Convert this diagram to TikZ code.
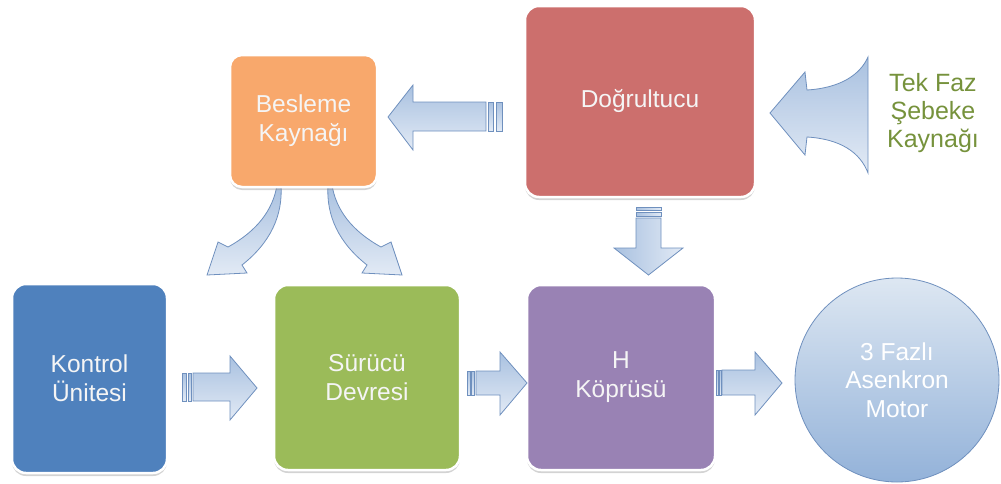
\documentclass[tikz,border=0pt]{standalone}
\usepackage{fontspec}
\setmainfont{Liberation Sans}
\usepackage{tikz}
\usetikzlibrary{shadows}

\definecolor{kontrolblue}{HTML}{4F81BD}
\definecolor{surucugreen}{HTML}{9BBB59}
\definecolor{kopruviolet}{HTML}{9982B4}
\definecolor{dogrured}{HTML}{CC6F6D}
\definecolor{beslemeorange}{HTML}{F8A86C}
\definecolor{sebekegreen}{HTML}{76923C}
\definecolor{arrowline}{HTML}{6F90BE}
\definecolor{arrowdark}{HTML}{A9C1E0}
\definecolor{arrowlight}{HTML}{E2EAF5}
\definecolor{motortop}{HTML}{DDE7F2}
\definecolor{motorbottom}{HTML}{93B2D9}

\tikzset{
  unit/.style={draw=white, line width=2.5pt, rounded corners=14pt,
    text=white!96!black, align=center, font=\fontsize{24.5pt}{29pt}\selectfont,
    drop shadow={shadow xshift=0pt, shadow yshift=-3pt, opacity=.35}},
  blockarrow/.style={draw=arrowline, line width=.8pt, top color=arrowdark, bottom color=arrowlight},
  downarrow/.style={draw=arrowline, line width=.8pt, left color=arrowdark, right color=arrowlight}
}

\begin{document}
\begin{tikzpicture}[x=1pt, y=-1pt]
  \useasboundingbox (0,0) rectangle (1001,483);

  % curved arrows below the supply box
  \draw [blockarrow] (277,185) .. controls (273,210) and (257,231) .. (228,247) -- (218,242) -- (207,275)
    -- (247,273) -- (242,265) .. controls (270,243) and (283,216) .. (281,185) -- cycle; % to control unit
  \draw [blockarrow] (332,185) .. controls (336,210) and (352,231) .. (381,247) -- (391,242) -- (402,275)
    -- (362,273) -- (367,265) .. controls (339,243) and (326,216) .. (328,185) -- cycle; % to driver

  % blocks
  \node [unit, fill=kontrolblue, minimum width=155pt, minimum height=189pt] (kontrol) at (89.5,378.5) {Kontrol\\Ünitesi};
  \node [unit, fill=surucugreen, minimum width=186pt, minimum height=185pt] (surucu) at (367,377.5) {Sürücü\\Devresi};
  \node [unit, fill=kopruviolet, minimum width=188pt, minimum height=185pt] (kopru) at (621,377.5) {H\\Köprüsü};
  \node [unit, fill=dogrured, minimum width=230pt, minimum height=191pt] (dogru) at (640,101.5) {Doğrultucu};
  \node [unit, fill=beslemeorange, rounded corners=12pt, minimum width=147pt, minimum height=132pt] (besleme) at (303.5,121) {Besleme\\Kaynağı};
  \node [circle, draw=arrowline, line width=.8pt, top color=motortop, bottom color=motorbottom,
    minimum size=204pt, text=white, align=center, font=\fontsize{24.5pt}{28.5pt}\selectfont] (motor) at (897,380) {3 Fazlı\\Asenkron\\Motor};
  \node [text=sebekegreen, align=center, font=\fontsize{25pt}{28pt}\selectfont] (sebeke) at (933,113) {Tek Faz\\Şebeke\\Kaynağı};

  % mains -> rectifier
  \draw [blockarrow] (770,113) -- (805,72) -- (807,90) .. controls (840,88) and (860,75) .. (868,57)
    -- (868,173) .. controls (860,152) and (840,139) .. (807,137) -- (805,155) -- cycle;

  % rectifier -> supply
  \draw [blockarrow] (388,117) -- (413,85) -- (413,102) -- (486,102) -- (486,131) -- (413,131) -- (413,150) -- cycle;
  \draw [blockarrow] (488,102) rectangle (493,131);
  \draw [blockarrow] (496,102) rectangle (502,131);

  % rectifier -> H bridge
  \draw [downarrow] (636,218) -- (636,248) -- (614,248) -- (648.5,275) -- (683,248) -- (661,248) -- (661,218) -- cycle;
  \draw [downarrow] (636,207) rectangle (661,210);
  \draw [downarrow] (636,212) rectangle (661,216);

  % control unit -> driver
  \draw [blockarrow] (193,373) -- (230,373) -- (230,356) -- (257,388) -- (230,420) -- (230,401) -- (193,401) -- cycle;
  \draw [blockarrow] (182,373) rectangle (186,401);
  \draw [blockarrow] (188,373) rectangle (191.5,401);

  % driver -> H bridge
  \draw [blockarrow] (476,371) -- (500,371) -- (500,352) -- (527,383) -- (500,415) -- (500,395) -- (476,395) -- cycle;
  \draw [blockarrow] (467,371) rectangle (470,395);
  \draw [blockarrow] (471.5,371) rectangle (474.5,395);

  % H bridge -> motor
  \draw [blockarrow] (722,370) -- (755,370) -- (755,352) -- (782,383) -- (755,415) -- (755,395) -- (722,395) -- cycle;
  \draw [blockarrow] (716.5,370) rectangle (718.5,395);
  \draw [blockarrow] (719.3,370) rectangle (721,395);
\end{tikzpicture}
\end{document}
